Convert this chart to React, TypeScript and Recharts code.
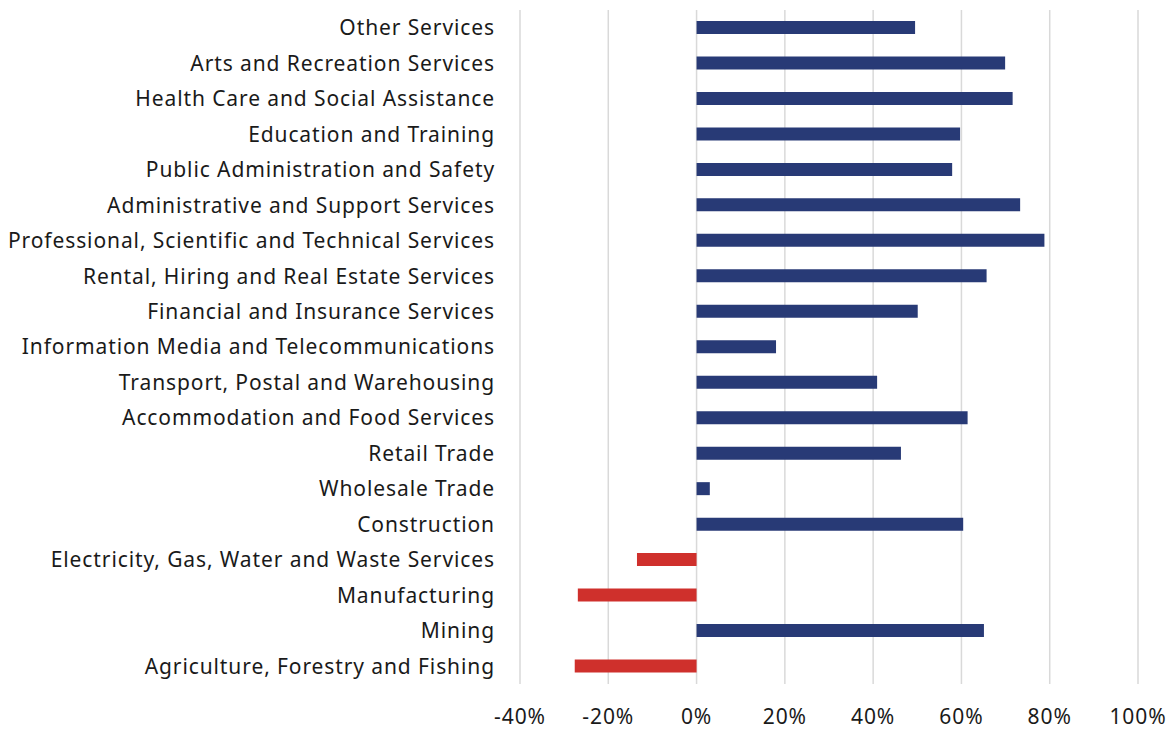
import { Bar, BarChart, CartesianGrid, Cell, XAxis, YAxis } from "recharts";

const industries = [
  "Other Services",
  "Arts and Recreation Services",
  "Health Care and Social Assistance",
  "Education and Training",
  "Public Administration and Safety",
  "Administrative and Support Services",
  "Professional, Scientific and Technical Services",
  "Rental, Hiring and Real Estate Services",
  "Financial and Insurance Services",
  "Information Media and Telecommunications",
  "Transport, Postal and Warehousing",
  "Accommodation and Food Services",
  "Retail Trade",
  "Wholesale Trade",
  "Construction",
  "Electricity, Gas, Water and Waste Services",
  "Manufacturing",
  "Mining",
  "Agriculture, Forestry and Fishing",
];

// share, in per cent
const change = [49.5, 69.9, 71.6, 59.7, 57.9, 73.3, 78.8, 65.7, 50.1, 18.0, 40.9, 61.4, 46.3, 3.0, 60.4, -13.5, -26.9, 65.1, -27.6];

const xTicks = [-40, -20, 0, 20, 40, 60, 80, 100];

const data = industries.map((name, i) => ({ name, value: change[i] }));

const FONT = "'Noto Sans', sans-serif";
const tickStyle = { fill: "#1a1a1a", fontSize: 21, fontFamily: FONT, letterSpacing: 0.9 };

export default function App() {
  return (
    <div style={{ position: "absolute", left: 0, top: 0, fontFamily: FONT }}>
      <BarChart
        width={1176}
        height={729}
        data={data}
        layout="vertical"
        margin={{ top: 10, right: 38, bottom: 0, left: 0 }}
      >
        <CartesianGrid horizontal={false} stroke="#d9d9d9" strokeWidth={1.5} />
        <XAxis
          type="number"
          domain={[-40, 100]}
          ticks={xTicks}
          tickFormatter={(v) => `${v}%`}
          axisLine={false}
          tickLine={false}
          height={45}
          tickMargin={19}
          tick={tickStyle}
        />
        <YAxis
          type="category"
          dataKey="name"
          width={520}
          axisLine={false}
          tickLine={false}
          tickMargin={19}
          interval={0}
          tick={tickStyle}
        />
        <Bar dataKey="value" barSize={13} isAnimationActive={false}>
          {data.map((d) => (
            <Cell key={d.name} fill={d.value < 0 ? "#cf302c" : "#283a76"} />
          ))}
        </Bar>
      </BarChart>
    </div>
  );
}
